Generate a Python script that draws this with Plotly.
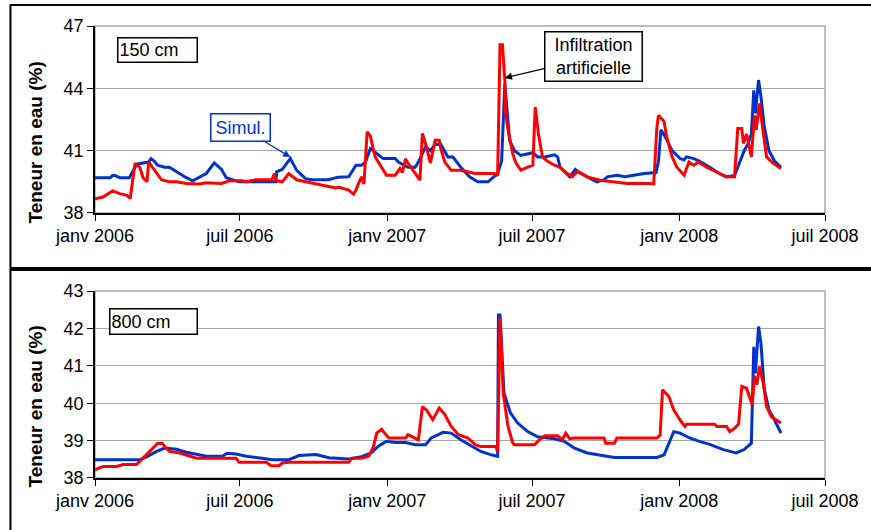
import plotly.graph_objects as go

# ---------------- data ----------------
# 150 cm - simulated (blue)
sim150_dates = ["2006-01-01","2006-01-20","2006-01-23","2006-01-26","2006-02-01","2006-02-13","2006-02-22","2006-03-02",
 "2006-03-09","2006-03-12","2006-03-16","2006-03-20","2006-03-29","2006-04-04","2006-04-13","2006-04-25","2006-05-03",
 "2006-05-11","2006-05-20","2006-05-30","2006-06-08","2006-06-14","2006-06-30","2006-08-15","2006-08-16","2006-08-23",
 "2006-09-02","2006-09-10","2006-09-21","2006-09-29","2006-10-20","2006-10-29","2006-11-01","2006-11-14","2006-11-23",
 "2006-11-30","2006-12-05","2006-12-11","2006-12-19","2006-12-27","2007-01-11","2007-01-15","2007-01-27","2007-02-05",
 "2007-02-09","2007-02-18","2007-02-24","2007-03-02","2007-03-09","2007-03-18","2007-03-24","2007-04-03","2007-04-14",
 "2007-04-24","2007-05-07","2007-05-15","2007-05-19","2007-05-24","2007-05-28","2007-06-03","2007-06-09","2007-06-17",
 "2007-06-25","2007-07-02","2007-07-08","2007-07-17","2007-07-29","2007-08-02","2007-08-05","2007-08-17","2007-08-24",
 "2007-08-27","2007-09-08","2007-09-20","2007-09-29","2007-10-03","2007-10-15","2007-10-25","2007-11-05","2007-11-18",
 "2007-12-03","2007-12-06","2007-12-09","2007-12-14","2007-12-23","2008-01-02","2008-01-07","2008-01-10","2008-01-19",
 "2008-01-26","2008-02-08","2008-02-20","2008-02-29","2008-03-10","2008-03-15","2008-03-22","2008-03-27","2008-03-31",
 "2008-04-03","2008-04-05","2008-04-09","2008-04-12","2008-04-16","2008-04-22","2008-04-29","2008-05-07"]
sim150_vals = [39.7,39.7,39.8,39.8,39.7,39.7,40.35,40.4,
 40.45,40.62,40.5,40.3,40.2,40.2,39.98,39.7,39.55,
 39.7,39.9,40.41,40.1,39.7,39.5,39.5,39.98,40.1,
 40.62,40.05,39.65,39.6,39.6,39.7,39.72,39.74,40.3,
 40.3,40.45,41.1,40.86,40.62,40.62,40.45,40.2,40.2,
 40.45,41.18,41.0,41.3,41.3,40.7,40.7,40.2,39.74,
 39.5,39.5,39.74,39.9,40.5,44.2,41.5,41.0,40.77,
 40.85,40.9,40.7,40.7,40.8,40.7,40.2,39.74,40.1,
 40.0,39.74,39.5,39.6,39.74,39.82,39.74,39.82,39.9,
 39.95,40.5,42.0,41.7,41.0,40.62,40.55,40.7,40.62,
 40.5,40.2,39.9,39.74,39.8,40.3,41.0,41.35,41.8,
 43.9,42.8,44.4,43.6,42.2,41.0,40.5,40.2]

# 150 cm - observed (red)
obs150_dates = ["2006-01-01","2006-01-11","2006-01-23","2006-02-01","2006-02-10","2006-02-14","2006-02-20","2006-02-26",
 "2006-03-02","2006-03-07","2006-03-09","2006-03-17","2006-03-25","2006-04-04","2006-04-13","2006-04-25","2006-05-11",
 "2006-05-20","2006-06-08","2006-06-18","2006-07-04","2006-07-09","2006-07-21","2006-08-10","2006-08-13","2006-08-15",
 "2006-08-23","2006-08-31","2006-09-10","2006-09-21","2006-10-11","2006-10-29","2006-11-01","2006-11-14","2006-11-20",
 "2006-11-23","2006-11-26","2006-11-30","2006-12-03","2006-12-07","2006-12-11","2006-12-17","2006-12-25","2006-12-31",
 "2007-01-11","2007-01-17","2007-01-20","2007-01-24","2007-01-27","2007-02-05","2007-02-11","2007-02-14","2007-02-19",
 "2007-02-24","2007-03-02","2007-03-07","2007-03-09","2007-03-14","2007-03-22","2007-04-03","2007-04-12","2007-04-21",
 "2007-05-15","2007-05-19","2007-05-22","2007-05-25","2007-05-28","2007-05-29","2007-06-01","2007-06-07","2007-06-11",
 "2007-06-17","2007-06-25","2007-07-02","2007-07-05","2007-07-09","2007-07-14","2007-07-20","2007-07-29","2007-08-05",
 "2007-08-14","2007-08-20","2007-08-27","2007-09-08","2007-09-24","2007-10-12","2007-10-28","2007-11-25","2007-11-30",
 "2007-12-04","2007-12-06","2007-12-13","2007-12-16","2007-12-23","2007-12-29","2008-01-07","2008-01-13","2008-01-19",
 "2008-01-25","2008-02-04","2008-02-17","2008-02-29","2008-03-10","2008-03-14","2008-03-19","2008-03-21","2008-03-25",
 "2008-03-31","2008-04-04","2008-04-06","2008-04-10","2008-04-15","2008-04-19","2008-04-27","2008-05-07"]
obs150_vals = [38.69,38.77,39.06,38.93,38.85,38.7,40.38,40.2,
 39.7,39.5,40.46,40.0,39.6,39.5,39.5,39.42,39.4,
 39.45,39.42,39.55,39.55,39.5,39.6,39.6,39.9,39.55,
 39.5,39.9,39.6,39.5,39.33,39.2,39.25,39.1,38.9,
 39.1,39.4,39.74,39.4,41.9,41.7,40.7,40.2,39.82,
 39.82,40.14,39.95,40.6,40.4,39.9,39.58,41.83,41.2,
 40.4,41.5,41.5,41.1,40.45,40.06,40.06,39.98,39.9,
 39.9,39.8,46.1,46.1,44.4,42.8,42.0,40.85,40.4,
 40.06,40.2,40.3,43.1,41.8,40.7,40.5,40.3,40.2,
 39.9,39.74,40.0,39.74,39.58,39.5,39.42,39.42,39.4,
 42.15,42.7,42.4,41.7,40.7,40.2,39.82,40.45,40.3,
 40.45,40.2,39.98,39.74,39.74,42.07,42.07,41.35,41.8,
 40.7,42.7,42.0,43.27,41.8,40.7,40.4,40.14]

# 800 cm - simulated (blue)
sim800_dates = ["2006-01-01","2006-02-26","2006-03-07","2006-03-19","2006-03-29","2006-04-13","2006-04-25","2006-05-08",
 "2006-05-20","2006-06-09","2006-06-15","2006-06-26","2006-07-09","2006-07-29","2006-08-10","2006-08-31","2006-09-13",
 "2006-10-04","2006-10-20","2006-11-14","2006-11-30","2006-12-12","2006-12-21","2006-12-31","2007-01-11","2007-01-24",
 "2007-02-05","2007-02-18","2007-02-25","2007-03-12","2007-03-22","2007-04-03","2007-04-16","2007-04-28","2007-05-11",
 "2007-05-19","2007-05-20","2007-05-22","2007-05-27","2007-06-04","2007-06-13","2007-06-25","2007-07-08","2007-07-29",
 "2007-08-10","2007-08-23","2007-09-08","2007-09-24","2007-10-12","2007-12-04","2007-12-13","2007-12-19","2007-12-25",
 "2008-01-02","2008-01-14","2008-01-26","2008-02-08","2008-02-25","2008-03-12","2008-03-22","2008-03-31","2008-04-03",
 "2008-04-05","2008-04-09","2008-04-12","2008-04-16","2008-04-22","2008-04-29","2008-05-07"]
sim800_vals = [38.49,38.49,38.57,38.71,38.8,38.77,38.69,38.64,
 38.58,38.58,38.66,38.64,38.58,38.53,38.49,38.49,38.6,
 38.63,38.54,38.51,38.57,38.67,38.85,38.98,38.95,38.95,
 38.89,38.89,39.07,39.22,39.2,39.02,38.85,38.71,38.62,
 38.58,42.36,42.36,40.27,39.74,39.47,39.25,39.1,39.05,
 38.98,38.8,38.67,38.62,38.55,38.55,38.62,38.93,39.24,
 39.2,39.07,38.98,38.9,38.76,38.67,38.76,38.93,41.51,
 40.8,42.05,41.6,40.4,39.82,39.55,39.2]

# 800 cm - observed (red)
obs800_dates = ["2006-01-01","2006-01-11","2006-01-28","2006-02-05","2006-02-22","2006-03-02","2006-03-13","2006-03-20",
 "2006-03-26","2006-04-04","2006-04-17","2006-04-29","2006-05-08","2006-06-26","2006-06-30","2006-08-03","2006-08-09",
 "2006-08-19","2006-08-23","2006-08-31","2006-11-14","2006-11-18","2006-11-30","2006-12-09","2006-12-15","2006-12-19",
 "2006-12-25","2007-01-03","2007-01-24","2007-01-27","2007-02-09","2007-02-14","2007-02-19","2007-02-27","2007-03-07",
 "2007-03-14","2007-03-22","2007-03-31","2007-04-12","2007-04-21","2007-04-28","2007-05-17","2007-05-19","2007-05-22",
 "2007-05-26","2007-06-01","2007-06-07","2007-06-09","2007-07-04","2007-07-10","2007-07-17","2007-08-02","2007-08-08",
 "2007-08-12","2007-08-17","2007-08-23","2007-09-29","2007-10-01","2007-10-12","2007-10-15","2007-12-04","2007-12-08",
 "2007-12-11","2007-12-19","2007-12-25","2008-01-02","2008-01-08","2008-01-10","2008-02-14","2008-02-17","2008-02-29",
 "2008-03-04","2008-03-10","2008-03-15","2008-03-19","2008-03-25","2008-04-01","2008-04-04","2008-04-07","2008-04-10",
 "2008-04-15","2008-04-19","2008-04-25","2008-05-07"]
obs800_vals = [38.22,38.31,38.31,38.36,38.36,38.54,38.76,38.92,
 38.92,38.71,38.67,38.58,38.53,38.53,38.42,38.42,38.33,
 38.33,38.4,38.42,38.42,38.53,38.53,38.58,38.85,39.2,
 39.3,39.07,39.07,39.16,39.02,39.91,39.82,39.56,39.87,
 39.7,39.38,39.16,39.07,38.89,38.84,38.84,38.7,42.3,
 40.27,39.38,38.93,38.89,38.89,39.02,39.13,39.13,39.02,
 39.2,39.05,39.07,39.07,38.93,38.93,39.07,39.07,39.15,
 40.36,40.18,39.82,39.55,39.38,39.44,39.44,39.38,39.38,
 39.24,39.33,39.44,40.45,40.4,39.96,40.73,40.5,40.98,
 40.53,39.91,39.64,39.47]

tick_dates = ["2006-01-01","2006-07-01","2007-01-01","2007-07-01","2008-01-01","2008-07-01"]
tick_text = ["janv 2006","juil 2006","janv 2007","juil 2007","janv 2008","juil 2008"]
x_range = ["2006-01-01","2008-07-01"]

BLUE = "#0033CC"
RED = "#FF0000"
FONT = "Liberation Sans, Arial, sans-serif"

fig = go.Figure()
fig.add_trace(go.Scatter(x=sim150_dates, y=sim150_vals, mode="lines", line=dict(color=BLUE, width=3), xaxis="x", yaxis="y"))
fig.add_trace(go.Scatter(x=obs150_dates, y=obs150_vals, mode="lines", line=dict(color=RED, width=3), xaxis="x", yaxis="y"))
fig.add_trace(go.Scatter(x=sim800_dates, y=sim800_vals, mode="lines", line=dict(color=BLUE, width=3), xaxis="x2", yaxis="y2"))
fig.add_trace(go.Scatter(x=obs800_dates, y=obs800_vals, mode="lines", line=dict(color=RED, width=3), xaxis="x2", yaxis="y2"))

xcommon = dict(range=x_range, tickvals=tick_dates, ticktext=tick_text, showgrid=False, showline=True,
               linecolor="black", linewidth=1.5, ticks="outside", ticklen=6, tickcolor="black",
               tickfont=dict(family=FONT, size=18, color="black"), zeroline=False)
ycommon = dict(showgrid=True, gridcolor="#A8A8A8", gridwidth=1, showline=True, linecolor="black",
               linewidth=1.5, ticks="outside", ticklen=6, tickcolor="black",
               tickfont=dict(family=FONT, size=18, color="black"), zeroline=False)

fig.update_layout(
    width=871, height=530,
    margin=dict(l=95, r=42, t=26, b=52),
    paper_bgcolor="white", plot_bgcolor="white",
    showlegend=False,
    xaxis=dict(domain=[0, 1], anchor="y", **xcommon),
    yaxis=dict(domain=[0.5863, 1], anchor="x", range=[38, 47], tickvals=[38, 41, 44, 47], **ycommon),
    xaxis2=dict(domain=[0, 1], anchor="y2", **xcommon),
    yaxis2=dict(domain=[0, 0.4137], anchor="x2", range=[38, 43], tickvals=[38, 39, 40, 41, 42, 43], **ycommon),
)

shapes = [
    # plot-area gray borders
    dict(type="rect", xref="x domain", yref="y domain", x0=0, x1=1, y0=0, y1=1,
         line=dict(color="#A8A8A8", width=1.5), layer="below"),
    dict(type="rect", xref="x2 domain", yref="y2 domain", x0=0, x1=1, y0=0, y1=1,
         line=dict(color="#A8A8A8", width=1.5), layer="below"),
    # outer frames
    dict(type="rect", xref="paper", yref="paper", x0=-0.1158, x1=1.07, y0=0.4646, y1=1.0465,
         line=dict(color="black", width=2)),
    dict(type="rect", xref="paper", yref="paper", x0=-0.1158, x1=1.07, y0=-0.14, y1=0.4602,
         line=dict(color="black", width=2)),
]
fig.update_layout(shapes=shapes)

ann_font = dict(family=FONT, size=18, color="black")
annotations = [
    dict(text="Teneur en eau (%)", textangle=-90, xref="paper", yref="paper", x=-0.0817, y=0.743,
         xanchor="center", yanchor="middle", showarrow=False,
         font=dict(family=FONT, size=19, color="black", weight="bold")),
    dict(text="Teneur en eau (%)", textangle=-90, xref="paper", yref="paper", x=-0.0817, y=0.159,
         xanchor="center", yanchor="middle", showarrow=False,
         font=dict(family=FONT, size=19, color="black", weight="bold")),
    dict(text="150 cm", xref="paper", yref="paper", x=0.030, y=0.947, xanchor="left", yanchor="middle",
         showarrow=False, font=ann_font, align="left", width=76, height=21, borderpad=1,
         bordercolor="black", borderwidth=1.5, bgcolor="white"),
    dict(text="800 cm", xref="paper", yref="paper", x=0.019, y=0.347, xanchor="left", yanchor="middle",
         showarrow=False, font=ann_font, align="left", width=84, height=22, borderpad=1,
         bordercolor="black", borderwidth=1.5, bgcolor="white"),
    dict(text="Simul.", xref="x", yref="y", x="2006-09-02", y=40.69, ax=-50, ay=-30,
         showarrow=True, arrowhead=2, arrowsize=1.2, arrowwidth=1.2, arrowcolor=BLUE,
         font=dict(family=FONT, size=18, color=BLUE), width=56, height=24, borderpad=1,
         bordercolor=BLUE, borderwidth=1.5, bgcolor="white"),
    dict(text="Infiltration<br>artificielle", xref="x", yref="y", x="2007-05-28", y=44.5, ax=89, ay=-21,
         showarrow=True, arrowhead=2, arrowsize=1.2, arrowwidth=1.2, arrowcolor="black",
         font=ann_font, width=94, height=46, borderpad=1,
         bordercolor="black", borderwidth=1.5, bgcolor="white"),
]
fig.update_layout(annotations=annotations)

fig.write_html("out.html", config={"displayModeBar": False},
               post_script="document.body.style.margin='0';")
